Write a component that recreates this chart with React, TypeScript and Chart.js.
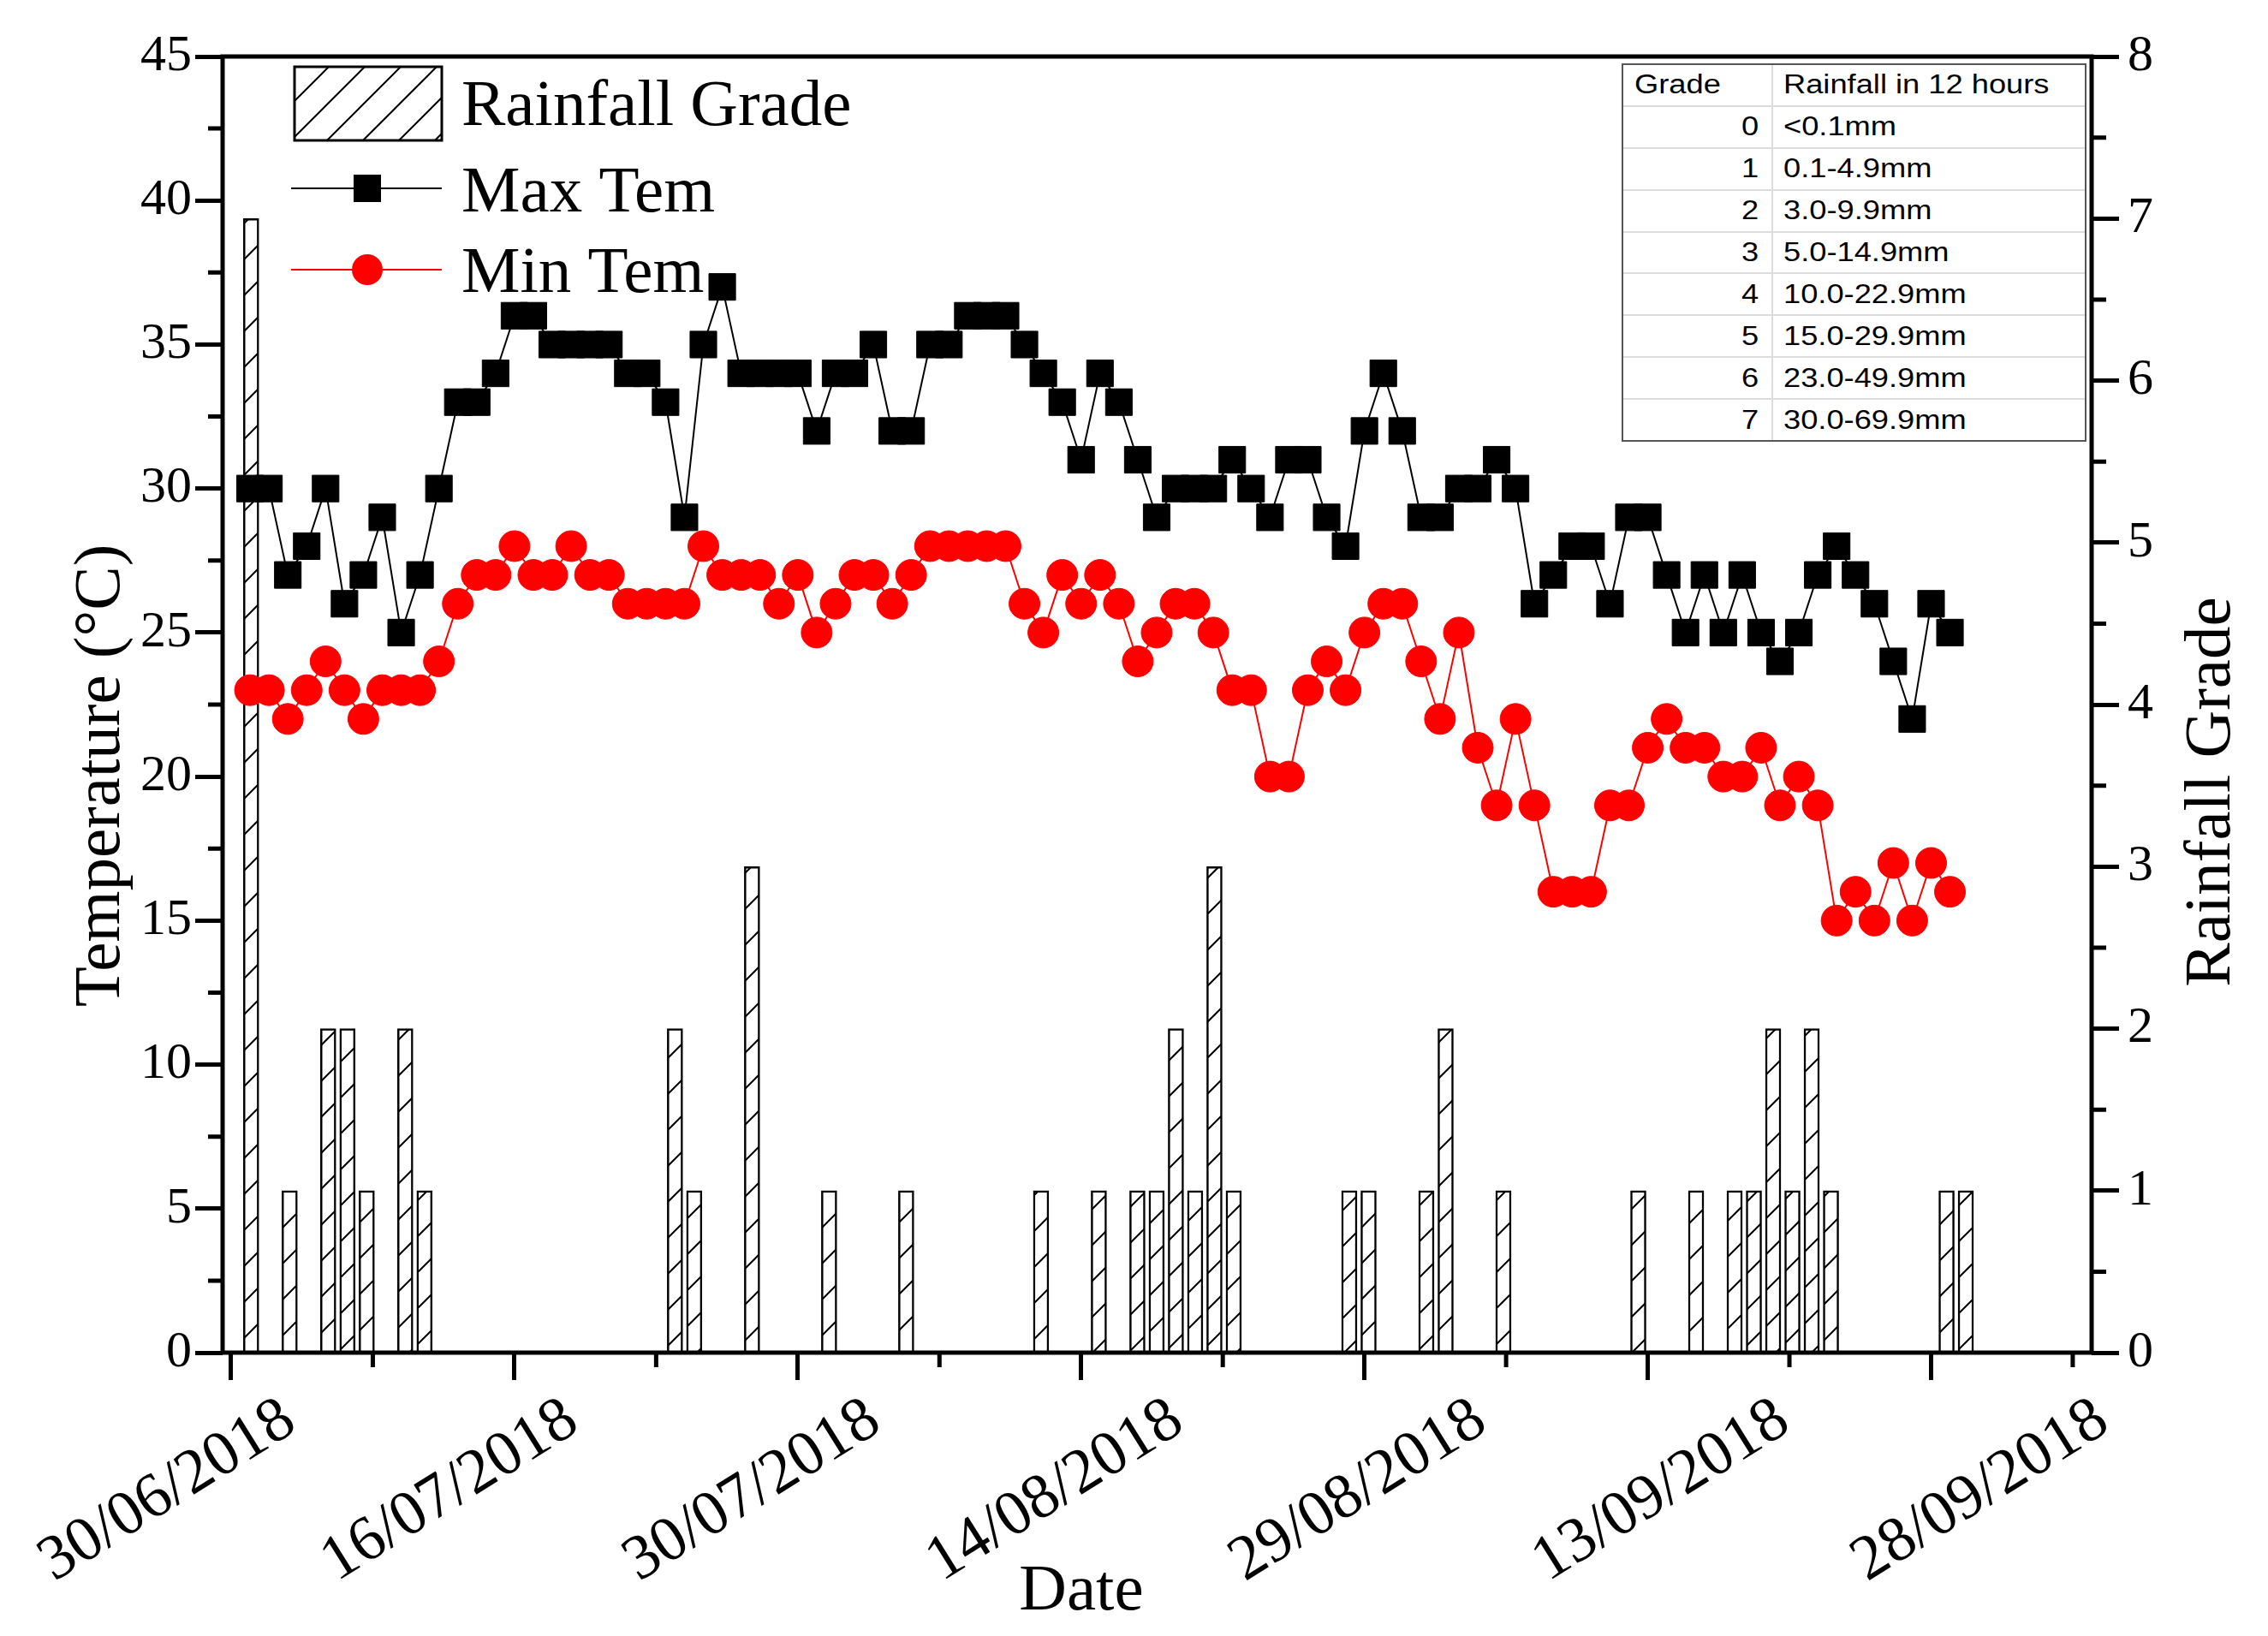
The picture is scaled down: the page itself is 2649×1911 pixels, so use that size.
import { useEffect, useRef } from 'react'
import { Chart, registerables } from 'chart.js'
Chart.register(...registerables)

const SERIF = '"Liberation Serif", "Times New Roman", serif'
const RED = '#ff0000'
Chart.defaults.font.family = SERIF

// one value per day, day 1 = 01/07/2018
const maxTem = [
  30, 30, 27, 28, 30, 26, 27, 29, 25, 27, 30, 33, 33, 34, 36, 36, 35, 35, 35, 35,
  34, 34, 33, 29, 35, 37, 34, 34, 34, 34, 32, 34, 34, 35, 32, 32, 35, 35, 36, 36,
  36, 35, 34, 33, 31, 34, 33, 31, 29, 30, 30, 30, 31, 30, 29, 31, 31, 29, 28, 32,
  34, 32, 29, 29, 30, 30, 31, 30, 26, 27, 28, 28, 26, 29, 29, 27, 25, 27, 25, 27,
  25, 24, 25, 27, 28, 27, 26, 24, 22, 26, 25,
]
const minTem = [
  23, 23, 22, 23, 24, 23, 22, 23, 23, 23, 24, 26, 27, 27, 28, 27, 27, 28, 27, 27,
  26, 26, 26, 26, 28, 27, 27, 27, 26, 27, 25, 26, 27, 27, 26, 27, 28, 28, 28, 28,
  28, 26, 25, 27, 26, 27, 26, 24, 25, 26, 26, 25, 23, 23, 20, 20, 23, 24, 23, 25,
  26, 26, 24, 22, 25, 21, 19, 22, 19, 16, 16, 16, 19, 19, 21, 22, 21, 21, 20, 20,
  21, 19, 20, 19, 15, 16, 15, 17, 15, 17, 16,
]

// rainy days only (same day numbering) and their grade
const rainDays = [1, 3, 5, 6, 7, 9, 10, 23, 24, 27, 31, 35, 42, 45, 47, 48, 49, 50, 51, 52,
  58, 59, 62, 63, 66, 73, 76, 78, 79, 80, 81, 82, 83, 89, 90]
const rainGrade = [7, 1, 2, 2, 1, 2, 1, 2, 1, 3, 1, 1, 1, 1, 1, 1, 2, 1, 3, 1,
  1, 1, 1, 2, 1, 1, 1, 1, 1, 2, 1, 2, 1, 1, 1]

const tickDays = [0, 15, 30, 45, 60, 75, 90]
const tickLabels = ['30/06/2018', '16/07/2018', '30/07/2018', '14/08/2018', '29/08/2018', '13/09/2018', '28/09/2018']

const gradeRows = ['0', '1', '2', '3', '4', '5', '6', '7']
const rainRanges = ['<0.1mm', '0.1-4.9mm', '3.0-9.9mm', '5.0-14.9mm', '10.0-22.9mm', '15.0-29.9mm', '23.0-49.9mm', '30.0-69.9mm']

// the rotated date labels don't sit exactly under their ticks in the original
const LABEL_DX = [-74, -75, -53, -30, -7, 16, 58]

function makeHatch(): CanvasPattern | string {
  const s = 42
  const tile = document.createElement('canvas')
  tile.width = s
  tile.height = s
  const c = tile.getContext('2d')
  if (!c) return '#fff'
  c.fillStyle = '#fff'
  c.fillRect(0, 0, s, s)
  c.strokeStyle = '#000'
  c.lineWidth = 2
  c.beginPath()
  c.moveTo(-4, s + 4); c.lineTo(s + 4, -4)
  c.moveTo(-4, 4); c.lineTo(4, -4)
  c.moveTo(s - 4, s + 4); c.lineTo(s + 4, s - 4)
  c.stroke()
  return c.createPattern(tile, 'repeat') || '#fff'
}

function makeDecorations(hatch: CanvasPattern | string) {
  return {
    id: 'decorations',
    afterDraw(chart: any) {
      const { ctx, chartArea: a, scales } = chart
      ctx.save()
      ctx.strokeStyle = '#000'
      ctx.lineWidth = 5
      ctx.strokeRect(a.left, a.top, a.right - a.left, a.bottom - a.top)

      // minor ticks half way between the majors
      ctx.beginPath()
      for (let v = 7.5; v < scales.x.max; v += 15) {
        const p = scales.x.getPixelForValue(v)
        ctx.moveTo(p, a.bottom); ctx.lineTo(p, a.bottom + 17)
      }
      for (let v = 2.5; v < 45; v += 5) {
        const p = scales.y.getPixelForValue(v)
        ctx.moveTo(a.left, p); ctx.lineTo(a.left - 17, p)
      }
      for (let v = 0.5; v < 8; v += 1) {
        const p = scales.y2.getPixelForValue(v)
        ctx.moveTo(a.right, p); ctx.lineTo(a.right + 17, p)
      }
      ctx.stroke()

      // date labels, rotated 32°
      ctx.fillStyle = '#000'
      ctx.font = `74px ${SERIF}`
      ctx.textAlign = 'center'
      ctx.textBaseline = 'middle'
      tickLabels.forEach((t, i) => {
        const p = scales.x.getPixelForValue(tickDays[i]) + LABEL_DX[i]
        ctx.save()
        ctx.translate(p, a.bottom + 162)
        ctx.rotate(-32 * Math.PI / 180)
        ctx.fillText(t, 0, 0)
        ctx.restore()
      })

      // axis titles
      ctx.font = `77px ${SERIF}`
      ctx.textBaseline = 'alphabetic'
      ctx.fillText('Date', 1263, 1880)
      ctx.save(); ctx.translate(139, 906); ctx.rotate(-Math.PI / 2); ctx.fillText('Temperature (°C)', 0, 0); ctx.restore()
      ctx.save(); ctx.translate(2604, 925); ctx.rotate(-Math.PI / 2); ctx.fillText('Rainfall Grade', 0, 0); ctx.restore()

      // legend, top left inside the frame
      const ds = chart.data.datasets
      ctx.fillStyle = hatch
      ctx.fillRect(344, 78, 172, 86)
      ctx.lineWidth = 3
      ctx.strokeRect(344, 78, 172, 86)

      ctx.lineWidth = 2
      ctx.beginPath(); ctx.moveTo(340, 220); ctx.lineTo(516, 220); ctx.stroke()
      ctx.fillStyle = '#000'
      ctx.fillRect(413, 204, 32, 32)

      ctx.strokeStyle = RED
      ctx.beginPath(); ctx.moveTo(340, 315); ctx.lineTo(516, 315); ctx.stroke()
      ctx.fillStyle = RED
      ctx.beginPath(); ctx.arc(429, 315, 18, 0, Math.PI * 2); ctx.fill()

      ctx.fillStyle = '#000'
      ctx.textAlign = 'left'
      ctx.font = `77px ${SERIF}`
      ctx.fillText(ds[2].label, 539, 146)
      ctx.fillText(ds[0].label, 539, 247)
      ctx.fillText(ds[1].label, 539, 341)
      ctx.restore()
    },
  }
}

function RainTable() {
  const rows = [['Grade', 'Rainfall in 12 hours'], ...gradeRows.map((g, i) => [g, rainRanges[i]])]
  const txt = (s: string, origin: string) => (
    <span style={{ display: 'inline-block', transform: 'scaleX(1.17)', transformOrigin: origin, whiteSpace: 'nowrap' }}>{s}</span>
  )
  return (
    <div style={{
      position: 'absolute', left: 1894, top: 74, width: 543, height: 442, boxSizing: 'border-box',
      border: '2px solid #555', background: '#fff', display: 'flex', flexDirection: 'column',
      fontFamily: '"Liberation Sans", Arial, sans-serif', fontSize: 31, color: '#000',
    }}>
      {rows.map((r, i) => (
        <div key={i} style={{ flex: 1, display: 'flex', borderTop: i ? '2px solid #dcdcdc' : undefined }}>
          <div style={{
            width: 175, boxSizing: 'border-box', display: 'flex', alignItems: 'center',
            justifyContent: i ? 'flex-end' : 'flex-start', padding: '0 15px 0 13px', borderRight: '2px solid #dcdcdc',
          }}>
            {txt(r[0], i ? 'right center' : 'left center')}
          </div>
          <div style={{ flex: 1, display: 'flex', alignItems: 'center', paddingLeft: 12 }}>
            {txt(r[1], 'left center')}
          </div>
        </div>
      ))}
    </div>
  )
}

export default function App() {
  const canvasRef = useRef<HTMLCanvasElement>(null)

  useEffect(() => {
    if (!canvasRef.current) return
    const hatch = makeHatch()
    const tickFont = { family: SERIF, size: 60 }
    const majorGrid = { display: true, drawOnChartArea: false, drawTicks: true, tickLength: 32, tickWidth: 5, color: '#000' }

    const chart = new Chart(canvasRef.current, {
      type: 'line',
      data: {
        datasets: [
          {
            type: 'line', label: 'Max Tem', order: 1,
            data: maxTem.map((v, i) => ({ x: i + 1, y: v })),
            xAxisID: 'x', yAxisID: 'y',
            borderColor: '#000', borderWidth: 2,
            pointStyle: 'rect', pointRadius: 22, pointBackgroundColor: '#000', pointBorderColor: '#000', pointBorderWidth: 1,
          },
          {
            type: 'line', label: 'Min Tem', order: 2,
            data: minTem.map((v, i) => ({ x: i + 1, y: v })),
            xAxisID: 'x', yAxisID: 'y',
            borderColor: RED, borderWidth: 2,
            pointStyle: 'circle', pointRadius: 18, pointBackgroundColor: RED, pointBorderColor: RED, pointBorderWidth: 1,
          },
          {
            type: 'bar', label: 'Rainfall Grade', order: 3,
            data: rainDays.map((d, i) => ({ x: d, y: rainGrade[i] })),
            xAxisID: 'xb', yAxisID: 'y2',
            backgroundColor: hatch, borderColor: '#000', borderWidth: 2.5, barThickness: 18,
          },
        ],
      } as any,
      options: {
        animation: false,
        responsive: true,
        maintainAspectRatio: false,
        layout: { padding: { top: 66, left: 0, right: 0, bottom: 0 } },
        plugins: { legend: { display: false }, tooltip: { enabled: false } },
        scales: {
          x: {
            type: 'linear', axis: 'x', position: 'bottom', min: -0.453, max: 98.5, offset: false,
            afterBuildTicks: (s: any) => { s.ticks = tickDays.map(v => ({ value: v })) },
            afterFit: (s: any) => { s.height = 331 },
            ticks: { display: false },
            grid: majorGrid,
            border: { display: false },
          },
          // the rainfall layer's x scale runs about 2% wider than the temperature layer's
          xb: { type: 'linear', axis: 'x', position: 'bottom', display: false, min: -0.08, max: 96.93, offset: false },
          y: {
            type: 'linear', position: 'left', min: 0, max: 45,
            afterFit: (s: any) => { s.width = 260 },
            ticks: { stepSize: 5, font: tickFont, color: '#000', padding: 4 },
            grid: majorGrid,
            border: { display: false },
          },
          y2: {
            type: 'linear', position: 'right', min: 0, max: 8,
            afterFit: (s: any) => { s.width = 206 },
            ticks: { stepSize: 1, font: tickFont, color: '#000', padding: 10 },
            grid: majorGrid,
            border: { display: false },
          },
        },
      } as any,
      plugins: [makeDecorations(hatch)],
    })
    return () => chart.destroy()
  }, [])

  return (
    <div style={{ position: 'absolute', left: 0, top: 0, width: 2649, height: 1911, background: '#fff' }}>
      <canvas ref={canvasRef} />
      <RainTable />
    </div>
  )
}
